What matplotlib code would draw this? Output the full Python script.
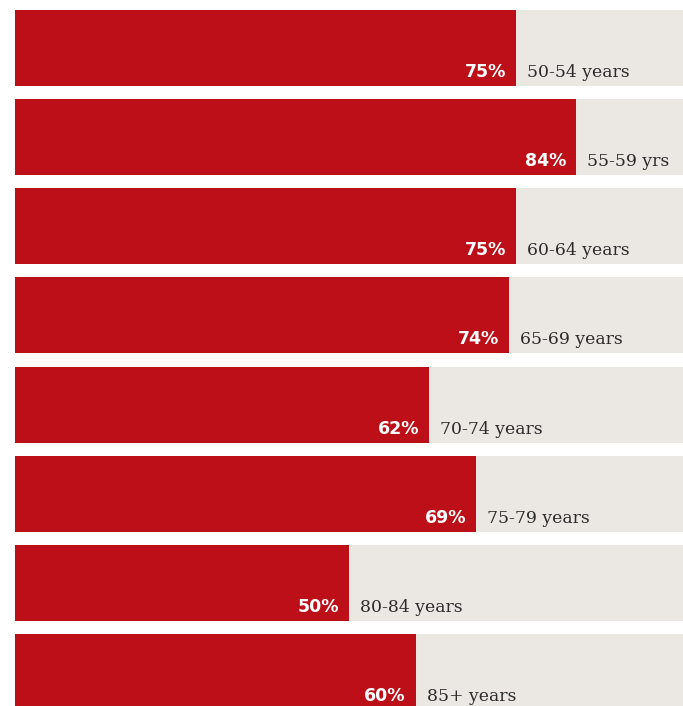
import matplotlib
matplotlib.use("Agg")
import matplotlib.pyplot as plt

# share of each age group, in percent
groups = ["50-54 years", "55-59 yrs", "60-64 years", "65-69 years",
          "70-74 years", "75-79 years", "80-84 years", "85+ years"]
values = [75, 84, 75, 74, 62, 69, 50, 60]

red = "#bc0f18"
grey = "#ebe8e4"

W, H = 683, 706
fig = plt.figure(figsize=(W / 100, H / 100), dpi=100)
# axes covers x from 15px to the right edge, full height
ax = fig.add_axes([15 / W, 0, 1 - 15 / W, 1])

step = 89.14
bar_h = 76 / step
top = -48 / step
bottom = (H - 48) / step

ys = list(range(len(values)))
ax.barh(ys, [100] * len(values), height=bar_h, color=grey, left=0)
ax.barh(ys, values, height=bar_h, color=red, left=0)

for y, v, g in zip(ys, values, groups):
    base = y + bar_h / 2
    ax.annotate(f"{v}%", (v, base), xytext=(-10, 9), textcoords="offset pixels",
                ha="right", va="baseline", color="white", fontsize=12.5,
                fontweight="bold", family="DejaVu Sans", annotation_clip=False)
    ax.annotate(g, (v, base), xytext=(11, 9), textcoords="offset pixels",
                ha="left", va="baseline", color="#2b2b2b", fontsize=12.4,
                family="DejaVu Serif", annotation_clip=False)

ax.set_xlim(0, 100)
ax.set_ylim(bottom, top)
ax.axis("off")

fig.savefig("out.png", dpi=100)
